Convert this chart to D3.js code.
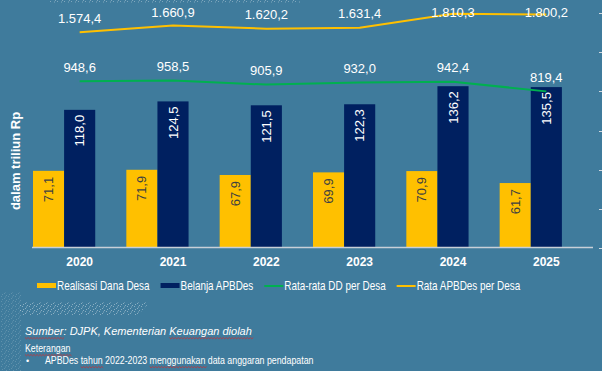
<!DOCTYPE html>
<html>
<head>
<meta charset="utf-8">
<script src="https://cdn.jsdelivr.net/npm/d3@7"></script>
<style>
  html, body { margin: 0; padding: 0; background: #3f7b9c; }
  svg { display: block; }
  text { font-family: "Liberation Sans", Arial, sans-serif; fill: #fff; }
</style>
</head>
<body>
<svg width="602" height="371"></svg>
<script>
// data
const years = ["2020", "2021", "2022", "2023", "2024", "2025"];
const realisasiDD = [71.1, 71.9, 67.9, 69.9, 70.9, 61.7];      // Realisasi Dana Desa
const belanjaAPBDes = [118.0, 124.5, 121.5, 122.3, 136.2, 135.5]; // Belanja APBDes
const rataDD = [948.6, 958.5, 905.9, 932.0, 942.4, 819.4];       // Rata-rata DD per Desa
const rataAPBDes = [1574.4, 1660.9, 1620.2, 1631.4, 1810.3, 1800.2]; // Rata APBDes per Desa

const legendItems = [
  {label: "Realisasi Dana Desa", kind: "bar", color: "#ffc000"},
  {label: "Belanja APBDes", kind: "bar", color: "#002060"},
  {label: "Rata-rata DD per Desa", kind: "line", color: "#00b050"},
  {label: "Rata APBDes per Desa", kind: "line", color: "#ffc000"}
];

const id = d3.formatLocale({decimal: ",", thousands: ".", grouping: [3], currency: ["Rp", ""]});
const fmt = id.format(",.1f");
const NARROW = 0.8; // no narrow font installed, squeeze instead

const svg = d3.select("svg");

// decorative speckle texture
const defs = svg.append("defs");
const pat = defs.append("pattern")
    .attr("id", "speckle")
    .attr("width", 7).attr("height", 5)
    .attr("patternUnits", "userSpaceOnUse");
[[1,1],[4,3],[6,0],[2,4],[5,1.5]].forEach(p => {
  pat.append("rect").attr("x", p[0]).attr("y", p[1]).attr("width", 1).attr("height", 1)
     .attr("fill", "#fff").attr("opacity", 0.55);
});
svg.append("path").attr("d", "M20,302 L150,302 L138,315 L20,315 Z").attr("fill", "url(#speckle)").attr("opacity", 0.7);
svg.append("path").attr("d", "M0,292 L22,292 L22,371 L0,371 Z").attr("fill", "url(#speckle)").attr("opacity", 0.3);
svg.append("path").attr("d", "M50,0 L300,0 L300,3 L50,3 Z").attr("fill", "url(#speckle)").attr("opacity", 0.6);

// scales
const x = d3.scaleBand().domain(years).range([33, 593]).padding(0);
const xSub = d3.scaleBand().domain(["dd", "apbdes", "gap"]).range([0, x.bandwidth()]);
const y = d3.scaleLinear().domain([12.5, 140]).range([247, 81.25]);
const y2 = d3.scaleLinear().domain([-1180, 1820]).range([248, 13]);

const cx = (d) => x(d) + xSub("apbdes") + xSub.bandwidth() / 2;

// bars
const rows = years.map((yr, i) => ({year: yr, dd: realisasiDD[i], apbdes: belanjaAPBDes[i]}));
const groups = svg.append("g").selectAll("g").data(rows).join("g")
    .attr("transform", d => `translate(${x(d.year)},0)`);

groups.append("rect")
    .attr("x", xSub("dd")).attr("width", xSub.bandwidth())
    .attr("y", d => y(d.dd)).attr("height", d => y.range()[0] - y(d.dd))
    .attr("fill", "#ffc000");
groups.append("rect")
    .attr("x", xSub("apbdes")).attr("width", xSub.bandwidth())
    .attr("y", d => y(d.apbdes)).attr("height", d => y.range()[0] - y(d.apbdes))
    .attr("fill", "#002060");

groups.append("text")
    .attr("transform", d => `translate(${xSub("dd") + xSub.bandwidth() / 2},${y(d.dd) + 6}) rotate(-90)`)
    .attr("text-anchor", "end").attr("dy", "0.35em")
    .style("font-size", "13px").style("fill", "#404040")
    .text(d => fmt(d.dd));
groups.append("text")
    .attr("transform", d => `translate(${xSub("apbdes") + xSub.bandwidth() / 2},${y(d.apbdes) + 5}) rotate(-90)`)
    .attr("text-anchor", "end").attr("dy", "0.35em")
    .style("font-size", "13px")
    .text(d => fmt(d.apbdes));

// x axis line + year labels
svg.append("line")
    .attr("x1", x.range()[0] - 1).attr("x2", x.range()[1])
    .attr("y1", y.range()[0] + 0.5).attr("y2", y.range()[0] + 0.5)
    .attr("stroke", "#c8d0d8").attr("stroke-width", 1.5);

svg.append("g").selectAll("text").data(years).join("text")
    .attr("x", d => cx(d)).attr("y", 262).attr("dy", "0.35em")
    .attr("text-anchor", "middle")
    .style("font-size", "12px").style("font-weight", "bold")
    .text(d => d);

// right axis tick marks (labels fall outside the frame)
const rightTicks = d3.range(7).map(i => y2.domain()[0] + i * 500);
svg.append("g").selectAll("line").data(rightTicks).join("line")
    .attr("x1", 599).attr("x2", 603)
    .attr("y1", d => Math.round(y2(d)) + 0.5).attr("y2", d => Math.round(y2(d)) + 0.5)
    .attr("stroke", "#d0d8e0").attr("stroke-width", 1);

// lines
const lineGen = d3.line().x(d => cx(d.year)).y(d => y2(d.v));
const series = [
  {values: rataAPBDes, color: "#ffc000"},
  {values: rataDD, color: "#00b050"}
];
series.forEach(s => {
  const pts = years.map((yr, i) => ({year: yr, v: s.values[i]}));
  svg.append("path").datum(pts)
      .attr("d", lineGen)
      .attr("fill", "none").attr("stroke", s.color).attr("stroke-width", 2);
  svg.append("g").selectAll("text").data(pts).join("text")
      .attr("x", d => cx(d.year))
      .attr("y", d => Math.max(y2(d.v) - 14, 12))
      .attr("dy", "0.35em").attr("text-anchor", "middle")
      .style("font-size", "13px")
      .text(d => fmt(d.v));
});

// y axis title
svg.append("text")
    .attr("transform", "translate(15,161) rotate(-90)")
    .attr("text-anchor", "middle").attr("dy", "0.35em")
    .style("font-size", "13px").style("font-weight", "bold")
    .text("dalam triliun Rp");

// condensed text helper
function narrowText(px, py, size, str) {
  const t = svg.append("text")
      .attr("transform", `translate(${px},${py}) scale(${NARROW},1)`)
      .style("font-size", size + "px").text(str);
  t.px = px; t.py = py; t.sx = NARROW;
  return t;
}

// legend
let lx = 37;
legendItems.forEach(item => {
  if (item.kind === "bar") {
    svg.append("rect").attr("x", lx).attr("y", 283).attr("width", 19).attr("height", 5).attr("fill", item.color);
  } else {
    svg.append("line").attr("x1", lx).attr("x2", lx + 19).attr("y1", 286).attr("y2", 286)
      .attr("stroke", item.color).attr("stroke-width", 2);
  }
  const t = narrowText(lx + 20, 290, 12.4, item.label);
  lx += 20 + t.node().getComputedTextLength() * NARROW + 11;
});

// notes with spell-check squiggles
function squiggle(t, words) {
  const node = t.node();
  const full = node.textContent;
  words.forEach(w => {
    const i = full.indexOf(w);
    if (i < 0) return;
    const s = t.px + (i ? node.getSubStringLength(0, i) : 0) * t.sx;
    const e = s + node.getSubStringLength(i, w.length) * t.sx;
    let d = `M${s},${t.py + 2.5}`;
    for (let px = s, k = 0; px < e; px += 1.5, k++) d += ` L${px + 1.5},${t.py + (k % 2 ? 2.5 : 3.8)}`;
    svg.append("path").attr("d", d).attr("fill", "none").attr("stroke", "#d62a2a").attr("stroke-width", 0.7);
  });
}

const src = svg.append("text").attr("transform", "translate(25,335)")
    .style("font-size", "11px").style("font-style", "italic")
    .text("Sumber: DJPK, Kementerian Keuangan diolah");
src.px = 25; src.py = 335; src.sx = 1;
squiggle(src, ["Sumber", "Keuangan diolah"]);

const ket = narrowText(25, 352, 11, "Keterangan");
squiggle(ket, ["Keterangan"]);

svg.append("text").attr("x", 26).attr("y", 364).style("font-size", "9px").text("•");
const note = narrowText(45, 364, 11, "APBDes tahun 2022-2023 menggunakan data anggaran pendapatan");
squiggle(note, ["tahun", "menggunakan"]);
</script>
</body>
</html>
